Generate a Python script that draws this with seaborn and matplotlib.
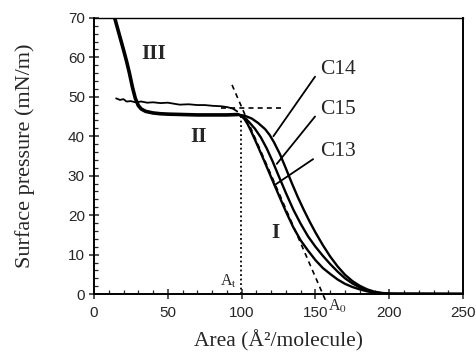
import pandas as pd
import matplotlib.pyplot as plt
import seaborn as sns
import numpy as np

# ------------------------------------------------------------
# Data
# ------------------------------------------------------------
# thick curve: collapse region III + plateau II
area_iii = [14, 16, 18, 20, 22, 24, 26, 28, 30, 32, 35, 40, 45, 50, 60, 70, 80, 90, 97.5]
pi_iii = [70, 67.3, 64.6, 61.9, 59.1, 56.0, 52.5, 49.6, 47.8, 46.9, 46.3, 45.9, 45.7, 45.6,
          45.5, 45.4, 45.4, 45.4, 45.5]

# thin upper plateau trace
area_up = [15, 17.6, 20, 22, 25, 28, 32, 36, 40, 45, 50, 58, 64, 70, 75, 80.6, 86, 90, 94, 97]
pi_up = [49.6, 49.2, 49.4, 48.8, 48.9, 48.6, 48.8, 48.5, 48.6, 48.4, 48.5, 48.0, 48.1, 47.9,
         47.9, 47.7, 47.6, 47.4, 47.0, 46.3]

# compression curves (region I)
area_c13 = [97.5, 100, 102, 104, 106, 110, 115, 120, 125, 130, 135, 140, 145, 150, 155, 160,
            165, 170, 175, 180, 185, 190, 195, 205, 250]
pi_c13 = [45.5, 45.1, 44.3, 43.1, 41.6, 38.3, 34.0, 29.6, 25.2, 20.9, 16.9, 13.6, 11.0, 8.6,
          6.6, 5.1, 3.7, 2.6, 1.8, 1.2, 0.7, 0.35, 0.15, 0.05, 0.05]

area_c15 = [97.5, 101, 105, 109, 113, 117, 121, 125, 130, 135, 140, 145, 150, 155, 160, 165,
            170, 175, 180, 185, 190, 195, 200, 250]
pi_c15 = [45.5, 45.0, 43.6, 41.9, 39.7, 36.9, 33.6, 30.0, 25.6, 21.4, 17.8, 14.6, 12.0, 9.7,
          7.6, 5.7, 4.0, 2.7, 1.7, 0.9, 0.45, 0.2, 0.1, 0.05]

area_c14 = [97.5, 102, 106.8, 111, 115.9, 119, 122, 126, 130, 134, 138, 142, 146, 150, 155,
            160, 165, 170, 175, 180, 185, 190, 195, 200, 250]
pi_c14 = [45.5, 45.2, 44.5, 43.4, 41.8, 40.3, 38.4, 35.4, 31.8, 28.1, 24.6, 21.4, 18.4, 15.6,
          12.4, 9.5, 7.0, 4.9, 3.3, 2.1, 1.2, 0.6, 0.3, 0.1, 0.05]

# construction lines
plateau_tangent_x = [86, 127]
plateau_tangent_y = [47.1, 47.1]
steep_tangent_x = [93.5, 157.5]
steep_tangent_y = [53, -2.2]
a_t = 99.6
a_t_pi = 45.5

# labels: (text, area, pi, leader start, leader end)
curve_labels = [
    ("C14", 153, 56.8, (149.7, 55.1), (121.5, 40.0)),
    ("C15", 153, 46.7, (149.7, 45.0), (123.8, 33.0)),
    ("C13", 153, 36.1, (148.4, 34.2), (122.2, 27.6)),
]
region_labels = [("III", 32.3, 60.9), ("II", 65, 39.9), ("I", 120.4, 15.4)]

x_ticks = [0, 50, 100, 150, 200, 250]
y_ticks = [0, 10, 20, 30, 40, 50, 60, 70]

# ------------------------------------------------------------
# Plot
# ------------------------------------------------------------
sns.set_style("ticks")
plt.rcParams['font.family'] = ['Liberation Serif', 'DejaVu Serif']
plt.rcParams['mathtext.fontset'] = 'stix'

fig = plt.figure(figsize=(4.77, 3.64), dpi=100)
ax = fig.add_axes([0.197, 0.192, 0.774, 0.759])

sns.lineplot(x=area_up, y=pi_up, ax=ax, color='black', lw=1.3, sort=False, estimator=None)
sns.lineplot(x=area_iii, y=pi_iii, ax=ax, color='black', lw=2.6, sort=False, estimator=None)
for xs, ys in [(area_c13, pi_c13), (area_c15, pi_c15), (area_c14, pi_c14)]:
    sns.lineplot(x=xs, y=ys, ax=ax, color='black', lw=1.7, sort=False, estimator=None)

ax.plot(plateau_tangent_x, plateau_tangent_y, color='black', lw=1.2, ls=(0, (3, 2.5)))
ax.plot(steep_tangent_x, steep_tangent_y, color='black', lw=1.2, ls=(0, (3, 2.5)), clip_on=False)
ax.plot([a_t, a_t], [0, a_t_pi], color='black', lw=1.3, ls=(0, (1, 1.5)))

for txt, tx, ty, (x0, y0), (x1, y1) in curve_labels:
    ax.plot([x0, x1], [y0, y1], color='black', lw=1.3)
    ax.text(tx, ty, txt, fontsize=15.5, ha='left', va='center')

for txt, tx, ty in region_labels:
    ax.text(tx, ty, txt, fontsize=15.5, fontweight='bold', ha='left', va='center')

ax.text(85.4, 3.1, r'A$_{\rm t}$', fontsize=11.5, ha='left', va='center')
ax.text(158.5, -3.0, r'A$_{\rm 0}$', fontsize=11.5, ha='left', va='center', clip_on=False)

ax.set_xlim(0, 250)
ax.set_ylim(0, 70)
ax.set_xticks(x_ticks)
ax.set_yticks(y_ticks)
ax.set_xticks(np.arange(0, 251, 10), minor=True)
ax.set_yticks(np.arange(0, 71, 2), minor=True)
ax.tick_params(which='major', direction='inout', length=7, width=1.1, labelsize=11)
ax.tick_params(which='minor', direction='in', length=3, width=0.9)
ax.tick_params(axis='x', which='major', pad=5)
ax.tick_params(axis='y', which='major', pad=3)
for lab in ax.get_xticklabels() + ax.get_yticklabels():
    lab.set_family(['Liberation Sans', 'DejaVu Sans'])

for side in ['left', 'bottom', 'right', 'top']:
    ax.spines[side].set_visible(True)
    ax.spines[side].set_linewidth(1.4)
    ax.spines[side].set_color('black')
ax.spines['top'].set_linewidth(1.0)

ax.set_xlabel('Area (Å²/molecule)', fontsize=15.5)
ax.set_ylabel('Surface pressure (mN/m)', fontsize=16)
ax.xaxis.set_label_coords(0.5, -0.17)
ax.yaxis.set_label_coords(-0.187, 0.5)
ax.xaxis.label.set_va('center')
ax.yaxis.label.set_va('center')

plt.savefig('out.png', dpi=100)
plt.close()
print("Saved: out.png")
